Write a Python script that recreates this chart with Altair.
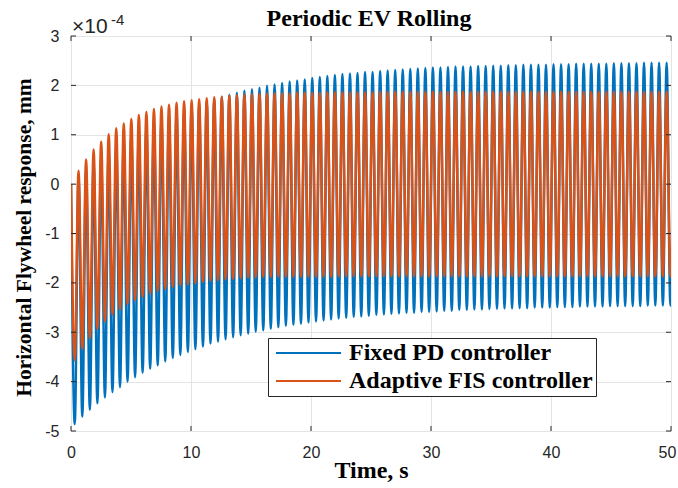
import altair as alt
import pandas as pd

TITLE = "Periodic EV Rolling"
X_TITLE = "Time, s"
Y_TITLE = "Horizontal Flywheel response, mm"
EXP_BASE = "×10"
EXP_POWER = "-4"
SERIES = ["Fixed PD controller", "Adaptive FIS controller"]
COLORS = ["#0072BD", "#D95319"]
X_TICKS = [0, 10, 20, 30, 40, 50]
Y_TICKS = [-5, -4, -3, -2, -1, 0, 1, 2, 3]
PERIOD = 0.6283  # seconds between successive peaks
START_VALUE = 0.0

# values in units of 1e-4 mm, one per oscillation cycle
BLUE_TROUGHS = [
    -4.86, -4.71, -4.57, -4.44, -4.32, -4.21, -4.11, -4.00, -3.91, -3.82,
    -3.74, -3.67, -3.59, -3.52, -3.46, -3.40, -3.34, -3.29, -3.23, -3.19,
    -3.14, -3.10, -3.06, -3.03, -2.99, -2.96, -2.93, -2.90, -2.87, -2.85,
    -2.83, -2.80, -2.78, -2.76, -2.74, -2.72, -2.71, -2.69, -2.68, -2.67,
    -2.65, -2.64, -2.63, -2.62, -2.61, -2.61, -2.59, -2.59, -2.58, -2.57,
    -2.57, -2.55, -2.55, -2.54, -2.54, -2.53, -2.53, -2.52, -2.52, -2.51,
    -2.51, -2.50, -2.50, -2.50, -2.49, -2.49, -2.49, -2.48, -2.48, -2.48,
    -2.48, -2.47, -2.47, -2.47, -2.47, -2.47, -2.46, -2.46, -2.46, -2.46,
]
BLUE_PEAKS = [
    0.16, 0.30, 0.43, 0.56, 0.67, 0.78, 0.89, 0.98, 1.08, 1.16,
    1.24, 1.31, 1.38, 1.45, 1.51, 1.57, 1.63, 1.68, 1.73, 1.77,
    1.81, 1.85, 1.89, 1.92, 1.95, 1.99, 2.02, 2.05, 2.08, 2.10,
    2.12, 2.15, 2.17, 2.19, 2.21, 2.23, 2.24, 2.25, 2.27, 2.27,
    2.29, 2.30, 2.31, 2.32, 2.33, 2.34, 2.35, 2.36, 2.36, 2.37,
    2.38, 2.38, 2.38, 2.39, 2.39, 2.40, 2.40, 2.41, 2.41, 2.42,
    2.42, 2.42, 2.42, 2.43, 2.43, 2.43, 2.44, 2.44, 2.44, 2.44,
    2.44, 2.45, 2.45, 2.45, 2.45, 2.46, 2.46, 2.46, 2.46, 2.46,
]
ORANGE_TROUGHS = [
    -3.57, -3.33, -3.12, -2.93, -2.78, -2.64, -2.54, -2.43, -2.35, -2.28,
    -2.22, -2.17, -2.12, -2.08, -2.05, -2.03, -2.01, -1.98, -1.96, -1.95,
    -1.93, -1.92, -1.91, -1.89, -1.89, -1.88, -1.88, -1.88, -1.88, -1.88,
    -1.88, -1.88, -1.88, -1.88, -1.88, -1.87, -1.87, -1.87, -1.87, -1.87,
    -1.87, -1.87, -1.87, -1.87, -1.87, -1.87, -1.87, -1.87, -1.87, -1.87,
    -1.87, -1.87, -1.87, -1.87, -1.87, -1.87, -1.87, -1.87, -1.87, -1.87,
    -1.87, -1.87, -1.87, -1.87, -1.87, -1.87, -1.87, -1.87, -1.87, -1.87,
    -1.87, -1.87, -1.87, -1.87, -1.87, -1.87, -1.87, -1.87, -1.87, -1.87,
]
ORANGE_PEAKS = [
    0.27, 0.50, 0.70, 0.86, 1.01, 1.13, 1.23, 1.32, 1.40, 1.46,
    1.52, 1.57, 1.61, 1.65, 1.68, 1.70, 1.72, 1.74, 1.76, 1.77,
    1.79, 1.80, 1.81, 1.82, 1.83, 1.83, 1.84, 1.84, 1.84, 1.85,
    1.85, 1.85, 1.85, 1.86, 1.86, 1.86, 1.86, 1.86, 1.86, 1.86,
    1.87, 1.87, 1.87, 1.87, 1.87, 1.87, 1.87, 1.87, 1.87, 1.87,
    1.87, 1.87, 1.87, 1.87, 1.87, 1.87, 1.87, 1.87, 1.87, 1.87,
    1.87, 1.87, 1.87, 1.87, 1.87, 1.87, 1.87, 1.87, 1.87, 1.87,
    1.87, 1.87, 1.87, 1.87, 1.87, 1.87, 1.87, 1.87, 1.87, 1.87,
]


def build(name, troughs, peaks):
    t, v = [0.0], [START_VALUE]
    for k, (lo, hi) in enumerate(zip(troughs, peaks), start=1):
        t.append((k - 0.5) * PERIOD)
        v.append(lo)
        t.append(k * PERIOD)
        v.append(hi)
    return pd.DataFrame({"t": t, "v": v, "series": name})


blue_df = build(SERIES[0], BLUE_TROUGHS, BLUE_PEAKS)
orange_df = build(SERIES[1], ORANGE_TROUGHS, ORANGE_PEAKS)

W, H = 600, 395
AXIS_COLOR = "#262626"
SERIF = "Liberation Serif"
SANS = "Liberation Sans"

x_enc = alt.X(
    "t:Q",
    scale=alt.Scale(domain=[0, 50], nice=False, zero=False),
    axis=alt.Axis(
        values=X_TICKS, title=X_TITLE, grid=True, gridColor="#e4e4e4",
        ticks=False, domain=False, labelFlush=False, labelOverlap=False,
        labelExpr="'' + datum.value",
        labelOffset={"condition": {"test": "datum.value === 50", "value": -4}, "value": 0},
        labelFont=SANS, labelFontSize=16, labelColor=AXIS_COLOR,
        labelPadding=13, titleFont=SERIF, titleFontWeight="bold",
        titleFontSize=24, titleColor="black", titleX=W / 2, titleY=39,
        titleBaseline="middle", titleAlign="center",
    ),
)
y_enc = alt.Y(
    "v:Q",
    scale=alt.Scale(domain=[-5, 3], nice=False, zero=False),
    axis=alt.Axis(
        values=Y_TICKS, title=Y_TITLE, grid=True, gridColor="#e4e4e4",
        ticks=False, domain=False, labelOverlap=False,
        labelExpr="'' + datum.value",
        labelFont=SANS, labelFontSize=16, labelColor=AXIS_COLOR,
        labelPadding=12, titleFont=SERIF, titleFontWeight="bold",
        titleFontSize=21.5, titleColor="black", titleX=-47, titleY=201,
        titleBaseline="middle", titleAlign="center", titleAngle=270,
    ),
)
color_enc = alt.Color(
    "series:N",
    scale=alt.Scale(domain=SERIES, range=COLORS),
    legend=alt.Legend(
        title=None, orient="none", legendX=197, legendY=302,
        padding=3, fillColor="white", strokeColor=AXIS_COLOR,
        symbolType="stroke", symbolSize=4225, symbolStrokeWidth=2,
        symbolOffset=4, clipHeight=24, rowPadding=4, labelOffset=7,
        labelFont=SERIF, labelFontWeight="bold", labelFontSize=24,
        labelColor="black", labelLimit=0, cornerRadius=0,
    ),
)

line_style = dict(strokeWidth=2.5, interpolate="monotone", clip=True)
blue_line = alt.Chart(blue_df).mark_line(**line_style).encode(x=x_enc, y=y_enc, color=color_enc)
orange_line = alt.Chart(orange_df).mark_line(**line_style).encode(x=x_enc, y=y_enc, color=color_enc)

xt = pd.DataFrame({"t": X_TICKS})
yt = pd.DataFrame({"v": Y_TICKS})
tick_style = dict(color=AXIS_COLOR, strokeWidth=1)
top_ticks = alt.Chart(xt).mark_rule(**tick_style).encode(x=x_enc, y=alt.value(0), y2=alt.value(5))
bottom_ticks = alt.Chart(xt).mark_rule(**tick_style).encode(x=x_enc, y=alt.value(H - 5), y2=alt.value(H))
left_ticks = alt.Chart(yt).mark_rule(**tick_style).encode(y=y_enc, x=alt.value(0), x2=alt.value(5))
right_ticks = alt.Chart(yt).mark_rule(**tick_style).encode(y=y_enc, x=alt.value(W - 5), x2=alt.value(W))

exp_base = alt.Chart(pd.DataFrame({"s": [EXP_BASE]})).mark_text(
    align="left", baseline="alphabetic", font=SANS, fontSize=21, color=AXIS_COLOR
).encode(text="s:N", x=alt.value(1), y=alt.value(-3))
exp_power = alt.Chart(pd.DataFrame({"s": [EXP_POWER]})).mark_text(
    align="left", baseline="alphabetic", font=SANS, fontSize=15, color=AXIS_COLOR
).encode(text="s:N", x=alt.value(40), y=alt.value(-11))
title_text = alt.Chart(pd.DataFrame({"s": [TITLE]})).mark_text(
    align="center", baseline="alphabetic", font=SERIF, fontWeight="bold",
    fontSize=24, color="black"
).encode(text="s:N", x=alt.value(W / 2 - 2), y=alt.value(-10))

chart = alt.layer(
    blue_line, orange_line, top_ticks, bottom_ticks, left_ticks, right_ticks,
    exp_base, exp_power, title_text,
).properties(
    width=W, height=H,
    autosize=alt.AutoSizeParams(type="none"),
    padding={"left": 71, "top": 36, "right": 7, "bottom": 57},
).configure_view(
    stroke=AXIS_COLOR, strokeWidth=1
).configure(background="white")

chart.save("out.html", embed_options={"renderer": "svg", "actions": False})
